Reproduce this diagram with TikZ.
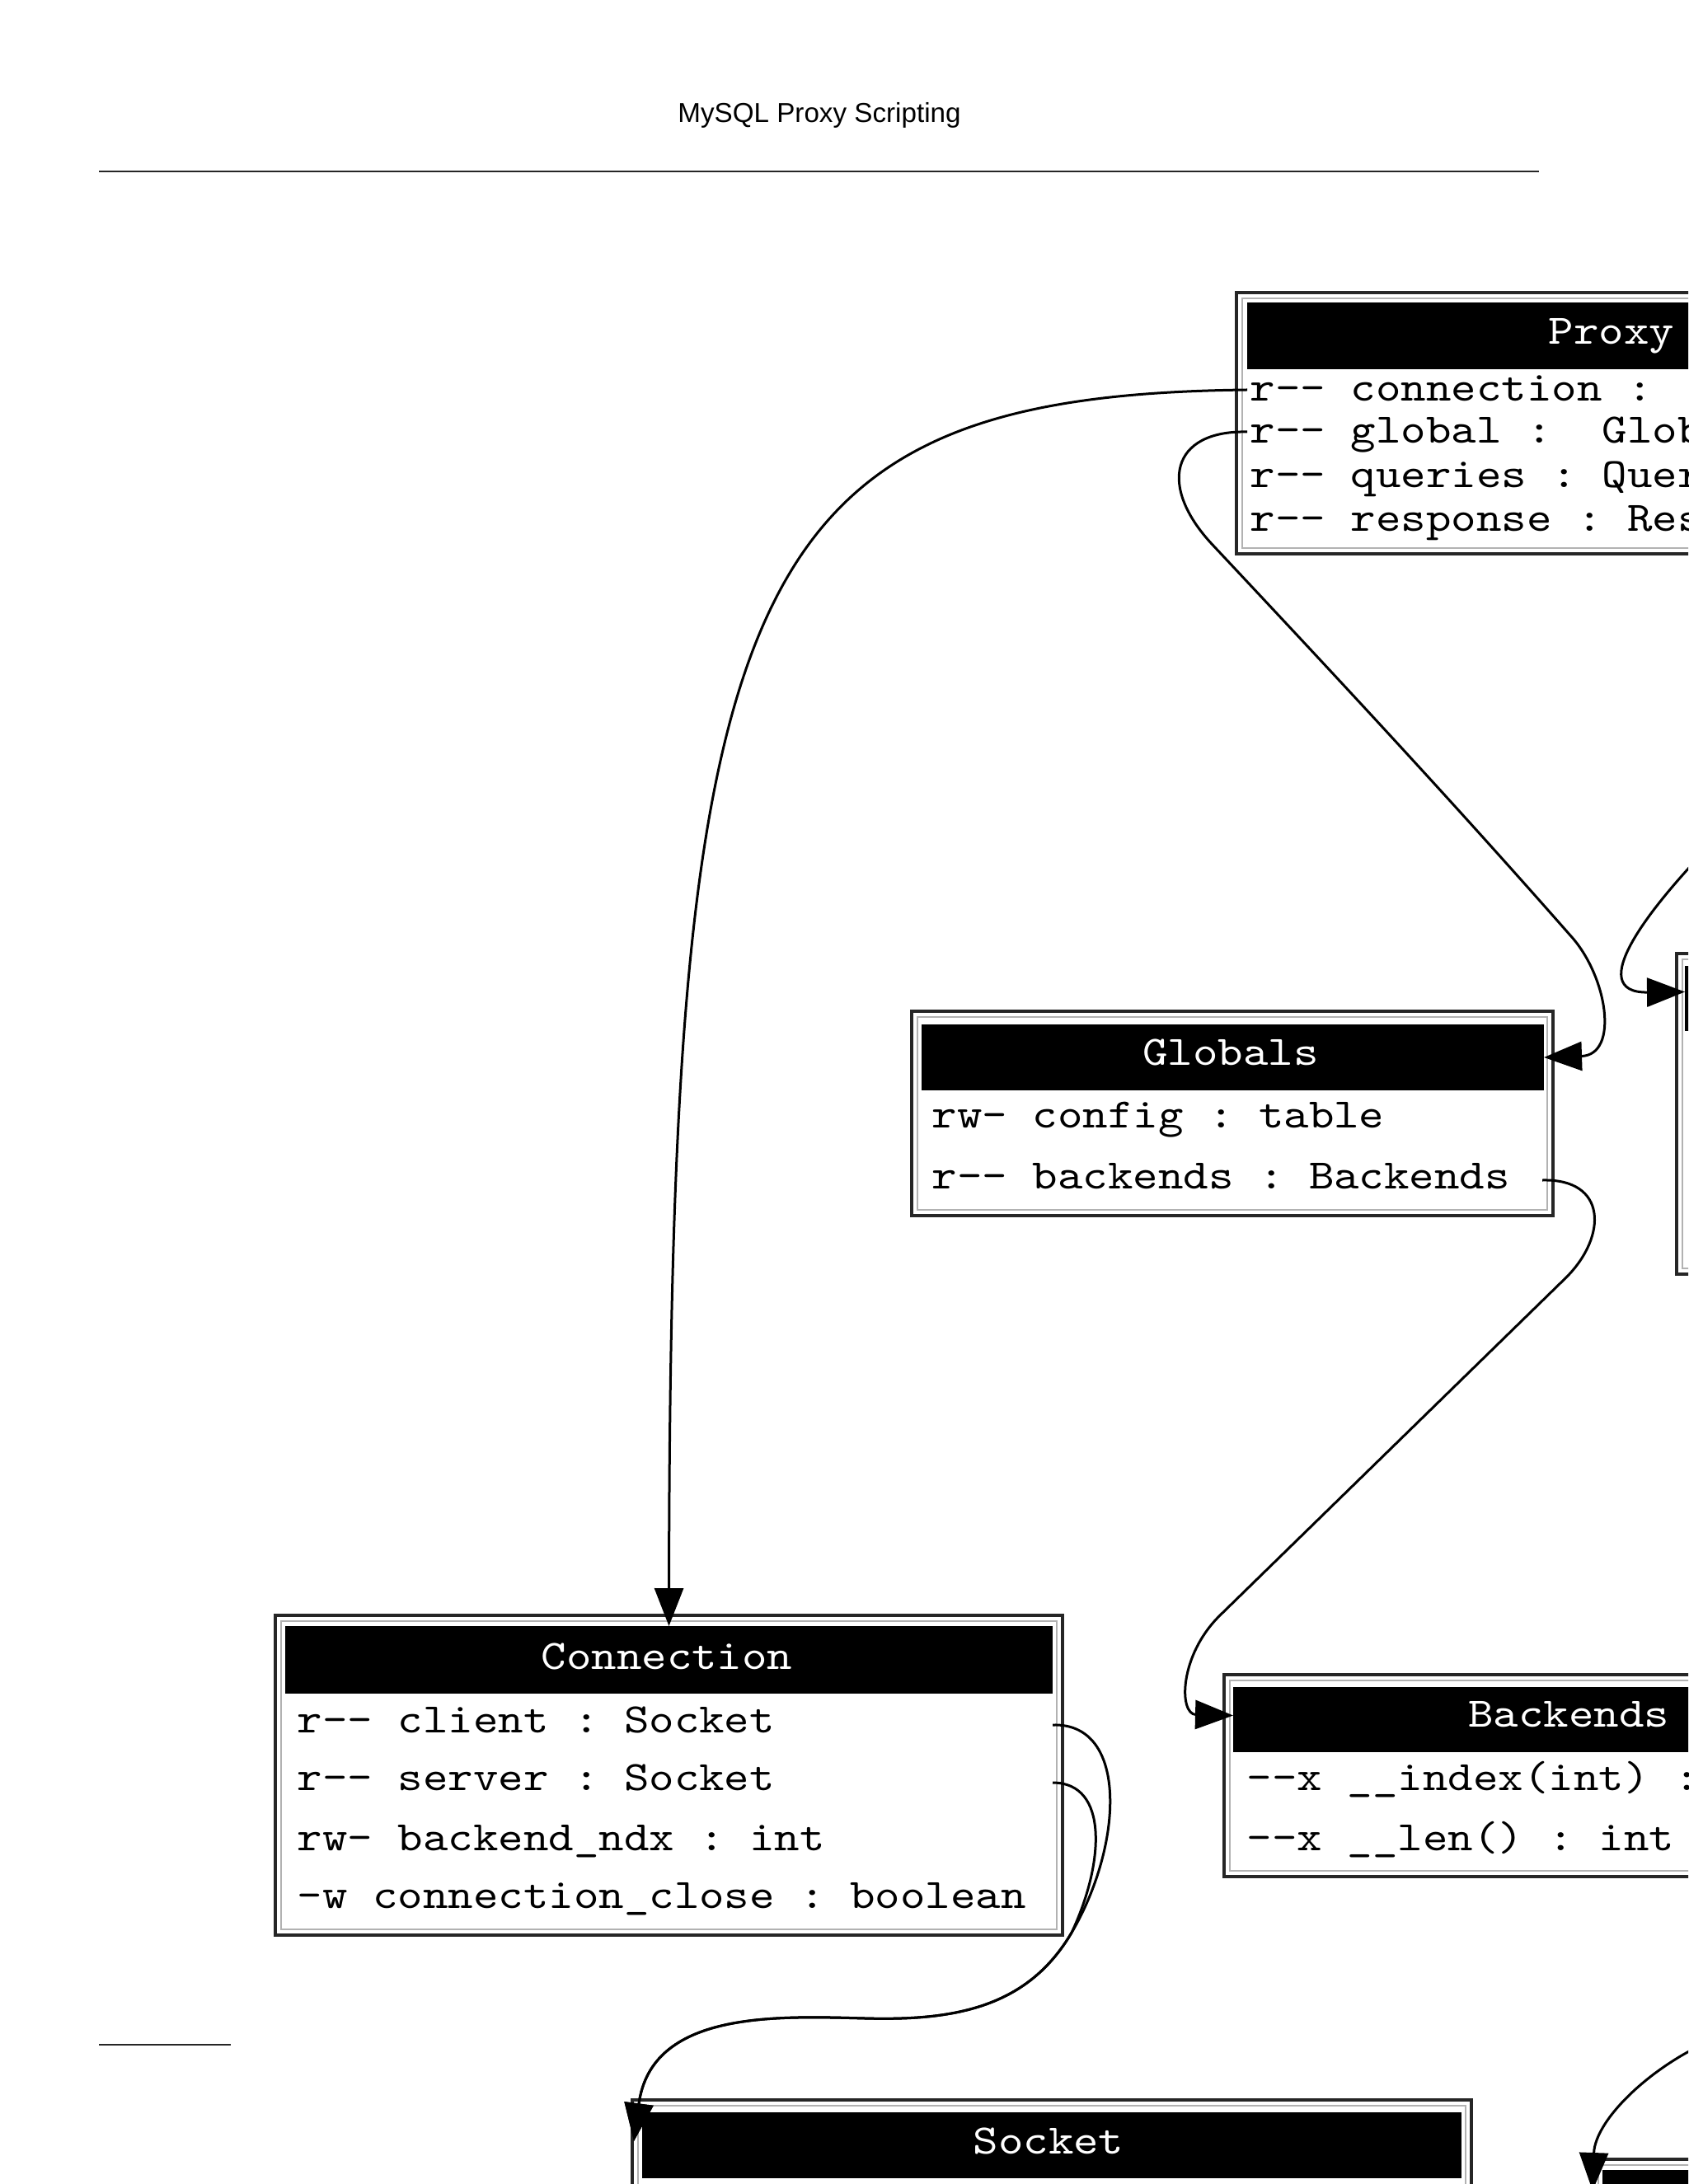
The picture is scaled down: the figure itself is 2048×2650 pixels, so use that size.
\documentclass[tikz,border=0pt]{standalone}
\usepackage{fontspec}
\setmonofont{lmmono10-regular.otf}[FakeStretch=1.143]
\newfontfamily\titlefont{Liberation Sans}
\usetikzlibrary{arrows.meta,calc}
\newcommand\umlframe[4]{%
  \draw[frameout] (#1,#2) rectangle (#3,#4);
  \draw[framein] (#1+7,#2+7) rectangle (#3-7,#4-7);}
\begin{document}
\begin{tikzpicture}[x=0.25pt,y=-0.25pt,
  frameout/.style={draw=black!85,line width=1pt},
  framein/.style={draw=black!30,line width=0.5pt},
  hdr/.style={fill=black,draw=none,inner sep=0pt,outer sep=0pt},
  hdrtext/.style={text=white,font=\ttfamily\fontsize{12.7pt}{15pt}\selectfont,inner sep=0pt,anchor=base},
  row/.style={font=\ttfamily\fontsize{12.7pt}{15pt}\selectfont,inner sep=0pt,anchor=base west},
  conn/.style={draw=black,line width=0.75pt,-{Triangle[length=11.5pt,width=8.75pt]}},
  rulestyle/.style={draw=black!85,line width=0.5pt}
]
\clip (0,0) rectangle (2048,2650);
\fill[white] (0,0) rectangle (2048,2650);

% title and rules
\node[font=\titlefont\fontsize{8.3pt}{10pt}\selectfont,anchor=base,inner sep=0pt] (title) at (994,149) {MySQL Proxy Scripting};
\draw[rulestyle] (120,208) -- (1867,208);
\draw[rulestyle] (120,2481) -- (280,2481);

% Proxy
\umlframe{1500}{355}{2410}{672}
\node[hdr,minimum width=221pt,minimum height=20.25pt] (proxyhead) at (1955,407.5) {};
\node[hdrtext] (proxytitle) at (1955,418) {Proxy};
\node[row] (pconn) at (1516,487) {r-- connection :~~Connection};
\node[row] (pglob) at (1516,538) {r-- global :~~Globals};
\node[row] (pquer) at (1516,592) {r-- queries : Queries};
\node[row] (presp) at (1516,645) {r-- response : Response};

% Globals
\umlframe{1106}{1227}{1884}{1475}
\node[hdr,minimum width=188.75pt,minimum height=20pt] (globhead) at (1495.5,1283) {};
\node[hdrtext] (globtitle) at (1493,1292) {Globals};
\node[row] (gconf) at (1130,1368) {rw- config : table};
\node[row] (gback) at (1130,1442) {r-- backends : Backends};

% Connection
\umlframe{334}{1960}{1289}{2348}
\node[hdr,minimum width=232.75pt,minimum height=20.5pt] (connhead) at (811.5,2014) {};
\node[hdrtext] (conntitle) at (809,2025) {Connection};
\node[row] (cclient) at (360,2102) {r-- client : Socket};
\node[row] (cserver) at (360,2172) {r-- server : Socket};
\node[row] (cndx) at (360,2245) {rw- backend\_ndx : int};
\node[row] (cclose) at (360,2315) {-w connection\_close : boolean};

% Backends
\umlframe{1485}{2032}{2322}{2277}
\node[hdr,minimum width=203.5pt,minimum height=19.75pt] (backhead) at (1903,2086.5) {};
\node[hdrtext] (backtitle) at (1903,2095) {Backends};
\node[row] (bindex) at (1512,2172) {--x \_\_index(int) : Backend};
\node[row] (blen) at (1512,2245) {--x \_\_len() : int};

% Socket
\umlframe{767}{2548}{1785}{2900}
\node[hdr,minimum width=248.5pt,minimum height=20pt] (sockhead) at (1276,2603) {};
\node[hdrtext] (socktitle) at (1272,2613) {Socket};

% boxes cut off at the right edge
\umlframe{2034}{1157}{2610}{1546}
\node[hdr,minimum width=139pt,minimum height=19.75pt] (rmhead) at (2322,1211.5) {};
\umlframe{1932}{2620}{2510}{2900}
\node[hdr,minimum width=139pt,minimum height=20pt] (brhead) at (2222,2673) {};

% connectors
\coordinate (rmfrom) at (2090,1010);
\coordinate (brfrom) at (2090,2470);

\draw[conn] ($(pconn.base west)+(-3,-14)$) .. controls (900,480) and (813,700) .. (connhead.north);
\draw[conn] ($(pglob.base west)+(-3,-14)$) .. controls (1420,522) and (1405,590) .. (1470,660)
   .. controls (1620,820) and (1760,970) .. (1905,1135) .. controls (1950,1184) and (1965,1280) .. (globhead.east);
\draw[conn] ($(globhead.east |- gback.base)+(-2,-10)$) .. controls (1950,1430) and (1950,1500) .. (1900,1550)
   -- (1480,1960) .. controls (1430,2009) and (1430,2080) .. ($(backhead.west)+(0,-5)$);
\draw[conn] (rmfrom) .. controls (2000,1100) and (1920,1205) .. ($(rmhead.west)+(0,-8)$);
\draw[conn] (brfrom) .. controls (2010,2500) and (1935,2570) .. ($(brhead.north west)+(-12,25)$);
\draw[conn] ($(connhead.east |- cclient.base)+(0,-9)$) .. controls (1370,2090) and (1362,2240) .. (1300,2345)
   .. controls (1247,2435) and (1160,2452) .. (1050,2449)
   .. controls (940,2446) and (790,2440) .. ($(sockhead.west)+(-10,-5)$);
\draw[conn] ($(connhead.east |- cserver.base)+(0,-9)$) .. controls (1345,2163) and (1340,2260) .. (1300,2345)
   .. controls (1247,2435) and (1160,2452) .. (1050,2449)
   .. controls (940,2446) and (790,2440) .. ($(sockhead.west)+(-10,-5)$);
\end{tikzpicture}
\end{document}
